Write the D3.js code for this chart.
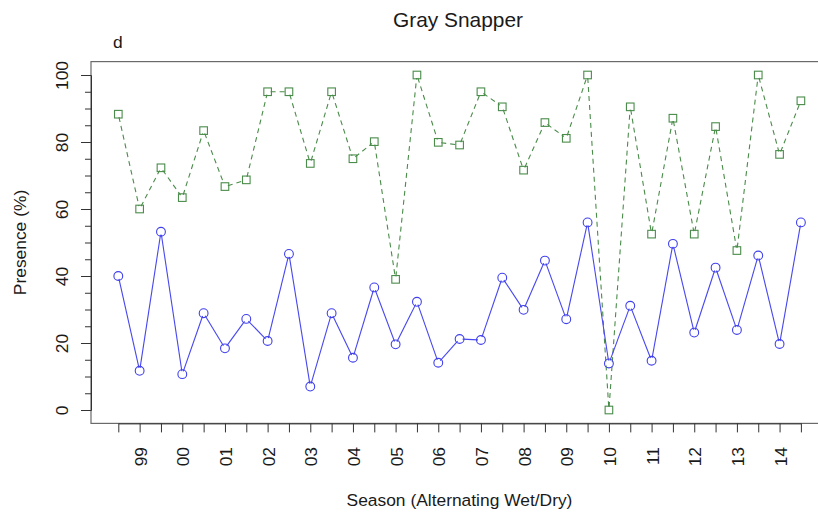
<!DOCTYPE html>
<html>
<head>
<meta charset="utf-8">
<script src="https://cdn.jsdelivr.net/npm/d3@7"></script>
<style>
  html, body { margin: 0; padding: 0; background: #fff; }
  svg { display: block; font-family: "Liberation Sans", Arial, Helvetica, sans-serif; }
</style>
</head>
<body>
<svg id="chart" width="818" height="514"></svg>
<script>
// Season index (alternating wet / dry), 1..33
const seasons = d3.range(1, 34);
// Year labels placed under every second season
const yearLabels = ["99", "00", "01", "02", "03", "04", "05", "06", "07", "08",
                    "09", "10", "11", "12", "13", "14"];
// Presence (%) — blue series, circles, solid line
const seriesBlue = [40, 11.7, 53.2, 10.7, 28.9, 18.4, 27.2, 20.6, 46.6, 7.0, 28.9,
                    15.6, 36.6, 19.6, 32.3, 14.1, 21.2, 20.9, 39.5, 29.9, 44.6, 27.1,
                    56.0, 13.9, 31.1, 14.7, 49.6, 23.1, 42.5, 23.9, 46.1, 19.7, 56.0];
// Presence (%) — green series, squares, dashed line
const seriesGreen = [88.3, 60.0, 72.3, 63.4, 83.4, 66.7, 68.7, 95.0, 95.0, 73.6, 95.0,
                     75.0, 80.1, 39.0, 100, 79.9, 79.1, 95.0, 90.5, 71.6, 85.8, 81.1,
                     100, 0, 90.5, 52.5, 87.1, 52.5, 84.6, 47.6, 100, 76.3, 92.3];
const yMajorTicks = [0, 20, 40, 60, 80, 100];
const yMinorTicks = d3.range(0, 101, 5).filter(v => v % 20 !== 0);

const svg = d3.select("#chart");
const baseFont = 17.4;

const x = d3.scaleLinear().domain([1, 33]).range([118.3, 800.9]);
const y = d3.scaleLinear().domain([0, 100]).range([410, 75]);

// plot frame (4% padding around the data range on each side)
const bx0 = x(1 - 32 * 0.04), bx1 = x(33 + 32 * 0.04);
const by0 = y(104), by1 = y(-4);
svg.append("rect")
  .attr("x", bx0).attr("y", by0)
  .attr("width", bx1 - bx0).attr("height", by1 - by0)
  .attr("fill", "none").attr("stroke", "#6a6a6a").attr("stroke-width", 1.2);

// x axis
const xAxis = d3.axisBottom(x)
  .tickValues(seasons)
  .tickSize(9)
  .tickSizeOuter(0)
  .tickFormat((d, i) => (i % 2 === 1 ? yearLabels[(i - 1) / 2] : ""));
const gx = svg.append("g").attr("transform", `translate(0,${by1})`).call(xAxis);
gx.select(".domain").attr("stroke", "#333");
gx.selectAll(".tick line").attr("stroke", "#333");
gx.selectAll(".tick text")
  .attr("x", 0).attr("y", 0).attr("dy", null)
  .attr("text-anchor", "end")
  .attr("transform", `translate(6.5,${447 - by1}) rotate(-90)`)
  .attr("font-size", baseFont)
  .attr("font-family", "Liberation Sans, Arial, sans-serif")
  .attr("fill", "#1a1a1a");

// y axis: minor ticks every 5, labelled ticks every 20
const gyMinor = svg.append("g").attr("transform", `translate(${bx0},0)`)
  .call(d3.axisLeft(y).tickValues(yMinorTicks).tickSize(6).tickSizeOuter(0).tickFormat(""));
gyMinor.select(".domain").attr("stroke", "#333");
gyMinor.selectAll(".tick line").attr("stroke", "#333");

const gy = svg.append("g").attr("transform", `translate(${bx0},0)`)
  .call(d3.axisLeft(y).tickValues(yMajorTicks).tickSize(10).tickSizeOuter(0));
gy.select(".domain").attr("stroke", "#333");
gy.selectAll(".tick line").attr("stroke", "#333");
gy.selectAll(".tick text")
  .attr("x", 0).attr("y", 0).attr("dy", null)
  .attr("text-anchor", "middle")
  .attr("transform", `translate(${68 - bx0},0) rotate(-90)`)
  .attr("font-size", baseFont)
  .attr("font-family", "Liberation Sans, Arial, sans-serif")
  .attr("fill", "#1a1a1a");

// titles
svg.append("text")
  .attr("x", 458).attr("y", 26.5)
  .attr("text-anchor", "middle")
  .attr("font-size", 20.9).attr("fill", "#1a1a1a")
  .text("Gray Snapper");
svg.append("text")
  .attr("x", 113).attr("y", 48)
  .attr("font-size", baseFont).attr("fill", "#1a1a1a")
  .text("d");
svg.append("text")
  .attr("x", 459.5).attr("y", 505.5)
  .attr("text-anchor", "middle")
  .attr("font-size", baseFont).attr("fill", "#1a1a1a")
  .text("Season (Alternating Wet/Dry)");
svg.append("text")
  .attr("transform", `translate(26,242.5) rotate(-90)`)
  .attr("text-anchor", "middle")
  .attr("font-size", baseFont).attr("fill", "#1a1a1a")
  .text("Presence (%)");

// connect points with segments that stop short of each marker
function drawSeries(values, color, dash, gap) {
  const pts = values.map((v, i) => [x(seasons[i]), y(v)]);
  const segs = d3.pairs(pts).map(([a, b]) => {
    const dx = b[0] - a[0], dy = b[1] - a[1];
    const len = Math.hypot(dx, dy);
    const ux = dx / len, uy = dy / len;
    return [a[0] + ux * gap, a[1] + uy * gap, b[0] - ux * gap, b[1] - uy * gap];
  });
  const g = svg.append("g");
  g.selectAll("line").data(segs).join("line")
    .attr("x1", d => d[0]).attr("y1", d => d[1])
    .attr("x2", d => d[2]).attr("y2", d => d[3])
    .attr("stroke", color).attr("stroke-width", 1.1)
    .attr("stroke-dasharray", dash);
  return { g, pts };
}

const green = drawSeries(seriesGreen, "#4a8c4a", "5,4", 3);
green.g.selectAll("rect").data(green.pts).join("rect")
  .attr("x", d => d[0] - 3.8).attr("y", d => d[1] - 3.8)
  .attr("width", 7.6).attr("height", 7.6)
  .attr("fill", "none").attr("stroke", "#4a8c4a").attr("stroke-width", 1.1);

const blue = drawSeries(seriesBlue, "#4747ee", null, 3);
blue.g.selectAll("circle").data(blue.pts).join("circle")
  .attr("cx", d => d[0]).attr("cy", d => d[1]).attr("r", 4.4)
  .attr("fill", "none").attr("stroke", "#4040ee").attr("stroke-width", 1.1);
</script>
</body>
</html>
